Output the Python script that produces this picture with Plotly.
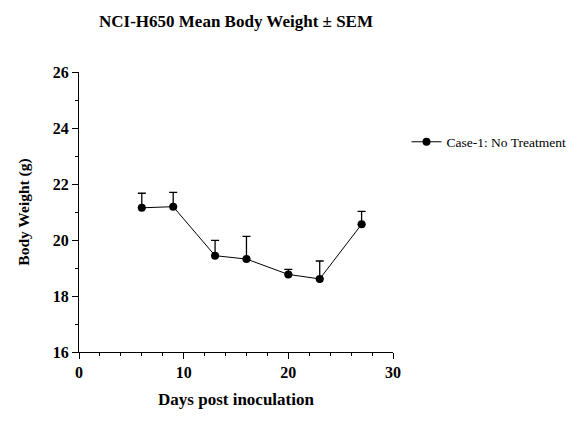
import plotly.graph_objects as go

days = [6, 9, 13, 16, 20, 23, 27]
mean_weight = [21.15, 21.19, 19.44, 19.32, 18.77, 18.61, 20.56]
sem = [0.52, 0.51, 0.55, 0.81, 0.18, 0.64, 0.46]
series_name = "Case-1: No Treatment"

FONT = "Liberation Serif, Times New Roman, serif"

fig = go.Figure()
fig.add_trace(go.Scatter(
    x=days, y=mean_weight, name=series_name, mode="lines+markers",
    line=dict(color="black", width=1),
    marker=dict(color="black", size=8, symbol="circle"),
    error_y=dict(type="data", array=sem, arrayminus=[0] * len(sem), symmetric=False,
                 color="black", thickness=1.3, width=4),
))

tickfont = dict(family=FONT, size=16, color="black", weight="bold")

fig.update_layout(
    width=584, height=440,
    margin=dict(l=79, r=191, t=72, b=88),
    paper_bgcolor="white", plot_bgcolor="white",
    font=dict(family=FONT, color="black"),
    showlegend=True,
    title=dict(text="<b>NCI-H650 Mean Body Weight ± SEM</b>", x=0.5, xref="paper",
               xanchor="center", y=0.952, yanchor="middle",
               font=dict(family=FONT, size=17, color="black")),
    legend=dict(x=1.043, y=0.75, xanchor="left", yanchor="middle",
                font=dict(family=FONT, size=13.5, color="black"),
                bgcolor="rgba(0,0,0,0)"),
    xaxis=dict(range=[0, 30], tickvals=[0, 10, 20, 30], ticks="outside", ticklen=6,
               tickwidth=1, tickcolor="black", showline=True, linecolor="black",
               linewidth=1, showgrid=False, zeroline=False,
               tickfont=tickfont,
               minor=dict(dtick=2, ticks="outside", ticklen=3, tickcolor="black", tickwidth=1),
               title=dict(text="<b>Days post inoculation</b>", standoff=12,
                          font=dict(family=FONT, size=17, color="black"))),
    yaxis=dict(range=[16, 26], tickvals=[16, 18, 20, 22, 24, 26], ticks="outside", ticklen=6,
               tickwidth=1, tickcolor="black", showline=True, linecolor="black",
               linewidth=1, showgrid=False, zeroline=False,
               tickfont=tickfont,
               minor=dict(dtick=1, ticks="outside", ticklen=3, tickcolor="black", tickwidth=1),
               title=dict(text="<b>Body Weight (g)</b>", standoff=19,
                          font=dict(family=FONT, size=15.5, color="black"))),
)

fig.write_html("out.html")
